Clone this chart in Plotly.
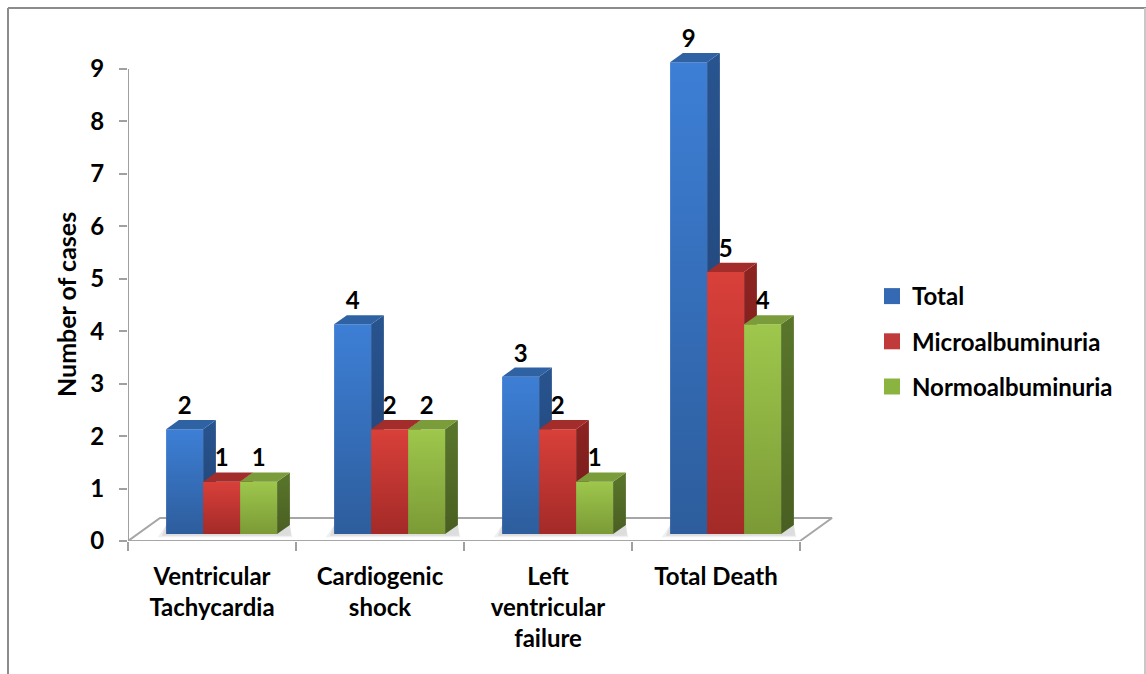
import plotly.graph_objects as go

# ---- data -------------------------------------------------------------
categories = ["Ventricular<br>Tachycardia", "Cardiogenic<br>shock",
              "Left<br>ventricular<br>failure", "Total Death"]
series_names = ["Total", "Microalbuminuria", "Normoalbuminuria"]
total = [2, 4, 3, 9]
micro = [1, 2, 2, 5]
normo = [1, 2, 1, 4]
y_ticks = [0, 1, 2, 3, 4, 5, 6, 7, 8, 9]

# ---- styling ------------------------------------------------------------
FONT = "Lato"
FS = 24
# (front top, front bottom, side top, side bottom, top face, legend)
PALETTE = [
    ("#3d7fd6", "#2d5d9c", "#28548f", "#1f4273", "#2f62a3", "#3669b3"),
    ("#d9403a", "#a32a28", "#8c2321", "#721b1a", "#a22d2b", "#c0393b"),
    ("#9ec74c", "#7b9a36", "#5a762b", "#495f22", "#7b9c3a", "#8ab43f"),
]

# ---- page geometry (pixels) -------------------------------------------
FIG_W, FIG_H = 1146, 674
L, R_PX, T, B_PX = 128, 850, 30, 541
PX_PER_CAT = 168.0
PX_PER_UNIT = 52.44
W, H = R_PX - L, B_PX - T
X_MAX = W / PX_PER_CAT
Y_MAX = H / PX_PER_UNIT

DEPTH_X = 32 / PX_PER_CAT      # floor depth projected on x
DEPTH_Y = 23 / PX_PER_UNIT     # floor depth projected on y
BAR_W = 37 / PX_PER_CAT
D0, D1 = 0.3, 0.7              # bar depth range as floor fraction

def px2x(px):
    return (px - L) / W

def px2y(py):
    return (B_PX - py) / H

def bold(size=FS):
    return dict(family=FONT, size=size, color="black", weight="bold")

fig = go.Figure()

def poly(xs, ys, fill=None, grad=None, line=None):
    kw = dict(x=list(xs) + [xs[0]], y=list(ys) + [ys[0]], mode="lines",
              fill="toself", hoverinfo="skip", showlegend=False)
    if grad is not None:
        top, bot = grad
        kw["fillgradient"] = dict(type="vertical",
                                  colorscale=[[0, bot], [1, top]],
                                  start=min(ys), stop=max(ys))
    else:
        kw["fillcolor"] = fill
    kw["line"] = line if line is not None else dict(width=0)
    fig.add_trace(go.Scatter(**kw))

# floor
n = len(categories)
poly([0, n, n + DEPTH_X, DEPTH_X], [0, 0, DEPTH_Y, DEPTH_Y],
     fill="white", line=dict(color="#a6a6a6", width=2))

values = [total, micro, normo]
bx, by = D0 * DEPTH_X, D0 * DEPTH_Y
dx, dy = (D1 - D0) * DEPTH_X, (D1 - D0) * DEPTH_Y

label_x, label_y, label_t = [], [], []
for i in range(n):
    center = i + 0.5 + bx
    g_left = center - 1.5 * BAR_W
    g_right = center + 1.5 * BAR_W
    # soft shadow on the floor
    for k, a in ((0.05, 0.06), (0.025, 0.08)):
        poly([g_left - k, g_right + dx + k * 0.3, g_right + dx, g_left],
             [by - k * 1.2, by - k * 1.2, by + dy, by + dy],
             fill=f"rgba(0,0,0,{a})")
    for j, vals in enumerate(values):
        v = vals[i]
        x0 = center + (j - 1.5) * BAR_W
        x1 = x0 + BAR_W
        ft, fb, st, sb, tp, _ = PALETTE[j]
        # front face
        poly([x0, x1, x1, x0], [by, by, by + v, by + v], grad=(ft, fb))
        # side face
        poly([x1, x1 + dx, x1 + dx, x1], [by, by + dy, by + v + dy, by + v],
             grad=(st, sb))
        # top face
        poly([x0, x1, x1 + dx, x0 + dx],
             [by + v, by + v, by + v + dy, by + v + dy], fill=tp)
        label_x.append((x0 + x1) / 2)
        label_y.append(by + v + dy)
        label_t.append(str(v))

fig.add_trace(go.Scatter(
    x=label_x, y=label_y, text=label_t, mode="text",
    textposition="top center", cliponaxis=False, hoverinfo="skip",
    showlegend=False, textfont=bold()))

# legend entries
for j, name in enumerate(series_names):
    fig.add_trace(go.Scatter(
        x=[None], y=[None], mode="markers", name=name,
        legendgroup=name,
        marker=dict(symbol="square", size=16, color=PALETTE[j][5])))

# y axis line from 0 to 9
fig.add_shape(type="line", xref="x", yref="y", x0=0, x1=0, y0=0,
              y1=max(y_ticks), line=dict(color="#a0a0a0", width=2))

# chart frame
fig.add_shape(type="line", xref="paper", yref="paper",
              x0=px2x(8), x1=px2x(1146), y0=px2y(8), y1=px2y(8),
              line=dict(color="#8c8c8c", width=2))
fig.add_shape(type="line", xref="paper", yref="paper",
              x0=px2x(8), x1=px2x(8), y0=px2y(8), y1=px2y(690),
              line=dict(color="#8c8c8c", width=2))
fig.add_shape(type="line", xref="paper", yref="paper",
              x0=px2x(1145), x1=px2x(1145), y0=px2y(8), y1=px2y(690),
              line=dict(color="#c8c8c8", width=2))

# y axis title
fig.add_annotation(xref="paper", yref="paper", x=px2x(66), y=px2y(305),
                   xanchor="center", yanchor="middle",
                   text="Number of cases", textangle=-90, showarrow=False,
                   font=bold(25))

fig.update_layout(
    width=FIG_W, height=FIG_H,
    margin=dict(l=L, r=FIG_W - R_PX, t=T, b=FIG_H - B_PX, autoexpand=False),
    paper_bgcolor="white", plot_bgcolor="white",
    xaxis=dict(range=[0, X_MAX], showgrid=False, zeroline=False,
               showline=False, tickmode="array",
               tickvals=[i + 0.5 for i in range(n)], ticktext=categories,
               ticks="", ticklabelstandoff=19, tickfont=bold(),
               minor=dict(tickmode="array", tickvals=list(range(n + 1)),
                          ticks="outside", ticklen=9, tickwidth=2,
                          tickcolor="#a0a0a0", showgrid=False),
               fixedrange=True),
    yaxis=dict(range=[0, Y_MAX], showgrid=False, zeroline=False,
               showline=False, tickmode="array", tickvals=y_ticks,
               ticks="outside", ticklen=8, tickwidth=2, tickcolor="#a0a0a0",
               ticklabelstandoff=10, tickfont=bold(), fixedrange=True),
    legend=dict(x=px2x(872), y=px2y(274), xanchor="left", yanchor="top",
                font=bold(), tracegroupgap=11, bgcolor="rgba(0,0,0,0)"),
    showlegend=True,
)

fig.write_html("out.html")
